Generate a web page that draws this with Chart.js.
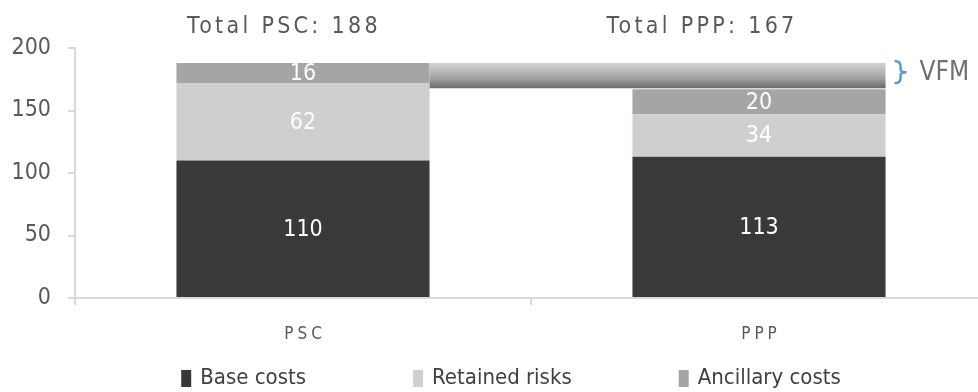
<!DOCTYPE html>
<html>
<head>
<meta charset="utf-8">
<script src="https://cdn.jsdelivr.net/npm/chart.js@4"></script>
<style>
  html, body { margin: 0; padding: 0; background: #fff; overflow: hidden; }
  #wrap { width: 978px; height: 392px; overflow: hidden; }
</style>
</head>
<body>
<div id="wrap"><canvas id="chart" width="987" height="392"></canvas></div>
<script>
// Chart data
const categories = ['PSC', 'PPP'];
const seriesNames = ['Base costs', 'Retained risks', 'Ancillary costs'];
const baseCosts = [110, 113];
const retainedRisks = [62, 34];
const ancillaryCosts = [16, 20];
const yTicks = [0, 50, 100, 150, 200];

const COLORS = ['#3b3838', '#d0cece', '#a5a5a5'];
const FONT = "'DejaVu Sans Condensed', 'Liberation Sans Narrow', sans-serif";

const totals = categories.map((c, i) => baseCosts[i] + retainedRisks[i] + ancillaryCosts[i]);

// Value labels in the middle of each segment
const segmentLabels = {
    id: 'segmentLabels',
    afterDatasetsDraw(chart) {
        const ctx = chart.ctx;
        ctx.save();
        ctx.fillStyle = '#ffffff';
        ctx.font = '23px ' + FONT;
        ctx.textAlign = 'center';
        ctx.textBaseline = 'middle';
        chart.data.datasets.forEach((ds, di) => {
            const meta = chart.getDatasetMeta(di);
            meta.data.forEach((bar, i) => {
                const mid = (bar.y + bar.base) / 2;
                ctx.fillText(String(ds.data[i]), bar.x, mid + 1);
            });
        });
        ctx.restore();
    }
};

// Totals above bars, VFM gap bar, x labels, legend
const extras = {
    id: 'extras',
    afterDatasetsDraw(chart) {
        const ctx = chart.ctx;
        const y = chart.scales.y;
        const x = chart.scales.x;
        const meta = chart.getDatasetMeta(0);
        const left = meta.data[0], right = meta.data[1];

        // VFM gap between the two totals
        const x0 = left.x + left.width / 2;
        const x1 = right.x + right.width / 2;
        const yTop = y.getPixelForValue(totals[0]);
        const yBot = y.getPixelForValue(totals[1]) - 1;
        const grad = ctx.createLinearGradient(0, yTop, 0, yBot);
        grad.addColorStop(0, '#d2d2d2');
        grad.addColorStop(0.55, '#a8a8a8');
        grad.addColorStop(1, '#6a6a6a');
        ctx.save();
        ctx.fillStyle = grad;
        ctx.fillRect(x0, yTop, x1 - x0, yBot - yTop);

        // bracket
        const bx = x1 + 9;
        const t = yTop - 2, b = yBot - 5;
        const bm = (t + b) / 2;
        ctx.strokeStyle = '#5b9bd5';
        ctx.lineWidth = 2.5;
        ctx.beginPath();
        ctx.moveTo(bx, t);
        ctx.quadraticCurveTo(bx + 6, t, bx + 6, t + 5);
        ctx.lineTo(bx + 6, bm - 3);
        ctx.quadraticCurveTo(bx + 6, bm, bx + 12, bm);
        ctx.quadraticCurveTo(bx + 6, bm, bx + 6, bm + 3);
        ctx.lineTo(bx + 6, b - 5);
        ctx.quadraticCurveTo(bx + 6, b, bx, b);
        ctx.stroke();

        ctx.fillStyle = '#707070';
        ctx.font = '26px ' + FONT;
        ctx.textAlign = 'left';
        ctx.textBaseline = 'middle';
        ctx.fillText('VFM', bx + 25, bm + 1);

        // Totals
        ctx.fillStyle = '#595959';
        ctx.font = '23px ' + FONT;
        ctx.letterSpacing = '3.3px';
        ctx.textAlign = 'center';
        ctx.textBaseline = 'middle';
        const offsets = [-19, -57];
        categories.forEach((c, i) => {
            const cx = x.getPixelForValue(i) + offsets[i];
            ctx.fillText('Total ' + c + ': ' + totals[i], cx, 27);
        });

        // x category labels
        ctx.font = '17px ' + FONT;
        ctx.letterSpacing = '4px';
        categories.forEach((c, i) => {
            ctx.fillText(c, x.getPixelForValue(i) + 2, 335);
        });
        ctx.letterSpacing = '0px';

        // legend
        ctx.font = '22px ' + FONT;
        ctx.textAlign = 'left';
        const gap = 107, boxW = 10, boxH = 17, textGap = 9;
        const widths = seriesNames.map(n => boxW + textGap + ctx.measureText(n).width);
        const total = widths.reduce((a, w) => a + w, 0) + gap * (seriesNames.length - 1);
        let lx = 511 - total / 2;
        seriesNames.forEach((n, i) => {
            ctx.fillStyle = COLORS[i];
            ctx.fillRect(lx, 370, boxW, boxH);
            ctx.fillStyle = '#404040';
            ctx.fillText(n, lx + boxW + textGap, 378);
            lx += widths[i] + gap;
        });
        ctx.restore();
    }
};

new Chart(document.getElementById('chart'), {
    type: 'bar',
    data: {
        labels: categories,
        datasets: [
            { label: seriesNames[0], data: baseCosts, backgroundColor: COLORS[0] },
            { label: seriesNames[1], data: retainedRisks, backgroundColor: COLORS[1] },
            { label: seriesNames[2], data: ancillaryCosts, backgroundColor: COLORS[2] }
        ]
    },
    options: {
        responsive: false,
        animation: false,
        events: [],
        layout: { padding: { top: 48, right: 0, left: 0, bottom: 87 } },
        datasets: {
            bar: { categoryPercentage: 1, barPercentage: 0.555, borderWidth: 0 }
        },
        plugins: {
            tooltip: { enabled: false },
            legend: { display: false }
        },
        scales: {
            x: {
                stacked: true,
                grid: { display: true, drawOnChartArea: false, tickLength: 7, color: '#d9d9d9', lineWidth: 2 },
                border: { display: true, color: '#d9d9d9', width: 2 },
                ticks: { display: false }
            },
            y: {
                stacked: true,
                min: 0,
                max: 200,
                afterBuildTicks(scale) {
                    scale.ticks = yTicks.map(v => ({ value: v }));
                },
                afterFit(scale) { scale.width = 75; },
                grid: { display: true, drawOnChartArea: false, tickLength: 7, color: '#d9d9d9', lineWidth: 2 },
                border: { display: true, color: '#d9d9d9', width: 2 },
                ticks: { color: '#595959', font: { family: FONT, size: 23 }, padding: 17 }
            }
        }
    },
    plugins: [segmentLabels, extras]
});
</script>
</body>
</html>
